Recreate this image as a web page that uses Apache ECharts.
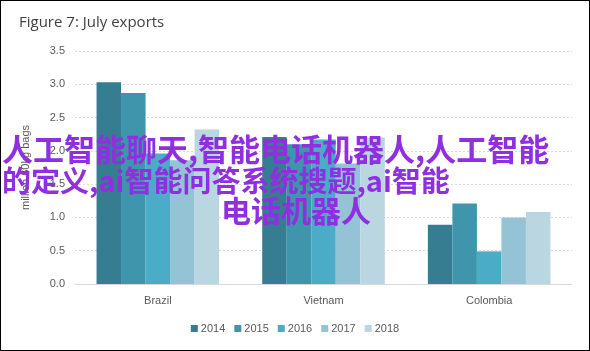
<!DOCTYPE html>
<html>
<head>
<meta charset="utf-8">
<script src="https://cdn.jsdelivr.net/npm/echarts@6/dist/echarts.min.js"></script>
<style>
  html, body { margin: 0; padding: 0; background: #fff; }
  #chart { width: 590px; height: 351px; box-sizing: border-box; border: 1px solid #000; }
</style>
</head>
<body>
<div id="chart"></div>
<script>
const countries = ["Brazil", "Vietnam", "Colombia"];
const years = ["2014", "2015", "2016", "2017", "2018"];
// one array per year, values per country (million 60kg bags)
const v2014 = [3.03, 2.21, 0.89];
const v2015 = [2.87, 2.10, 1.21];
const v2016 = [1.96, 2.17, 0.49];
const v2017 = [1.86, 1.81, 1.00];
const v2018 = [2.32, 2.20, 1.08];
const yearValues = [v2014, v2015, v2016, v2017, v2018];
const colors = ["#367d91", "#3f95ac", "#4aacc6", "#93c3d5", "#b9d6e1"];

const overlayLines = [
  "人工智能聊天,智能电话机器人,人工智能",
  "的定义,ai智能问答系统搜题,ai智能",
  "电话机器人"
];

const chart = echarts.init(document.getElementById("chart"));

const option = {
  animation: false,
  color: colors,
  title: {
    text: "Figure 7: July exports",
    left: 13,
    top: 9,
    textStyle: { fontSize: 15, fontWeight: "normal", color: "#404040", fontFamily: "Open Sans" }
  },
  grid: { left: 74, right: 17, top: 50, bottom: 66 },
  legend: {
    bottom: 11,
    left: "center",
    itemWidth: 7,
    itemHeight: 7,
    itemGap: 9,
    icon: "rect",
    textStyle: { fontSize: 11, color: "#595959", padding: [0, 0, 0, -2] },
    data: years
  },
  xAxis: {
    type: "category",
    data: countries,
    axisTick: { show: false },
    axisLine: { lineStyle: { color: "#d9d9d9" } },
    axisLabel: { color: "#595959", fontSize: 11, margin: 11 }
  },
  yAxis: {
    type: "value",
    min: 0,
    max: 3.5,
    interval: 0.5,
    name: "million 60kg bags",
    nameLocation: "middle",
    nameGap: 44,
    nameTextStyle: { color: "#595959", fontSize: 11 },
    axisLine: { show: false },
    axisTick: { show: false },
    axisLabel: { color: "#595959", fontSize: 11, margin: 10, formatter: v => v.toFixed(1) },
    splitLine: { lineStyle: { color: "#d9d9d9", type: [2, 2] } }
  },
  series: years.map((y, i) => ({
    name: y,
    type: "bar",
    data: yearValues[i],
    barGap: "0%",
    barCategoryGap: "26%"
  })),
  graphic: [
    {
      type: "text", left: 1, top: 133, z: 100,
      style: { text: overlayLines[0], fontSize: 31, fontWeight: "bold", fill: "#8f2fe0", fontFamily: "Noto Sans CJK SC" }
    },
    {
      type: "text", left: 1, top: 165, z: 100,
      style: { text: overlayLines[1], fontSize: 29, fontWeight: "bold", fill: "#8f2fe0", fontFamily: "Noto Sans CJK SC" }
    },
    {
      type: "text", left: 220, top: 195, z: 100,
      style: { text: overlayLines[2], fontSize: 30, fontWeight: "bold", fill: "#8f2fe0", fontFamily: "Noto Sans CJK SC" }
    }
  ]
};

chart.setOption(option);
</script>
</body>
</html>
